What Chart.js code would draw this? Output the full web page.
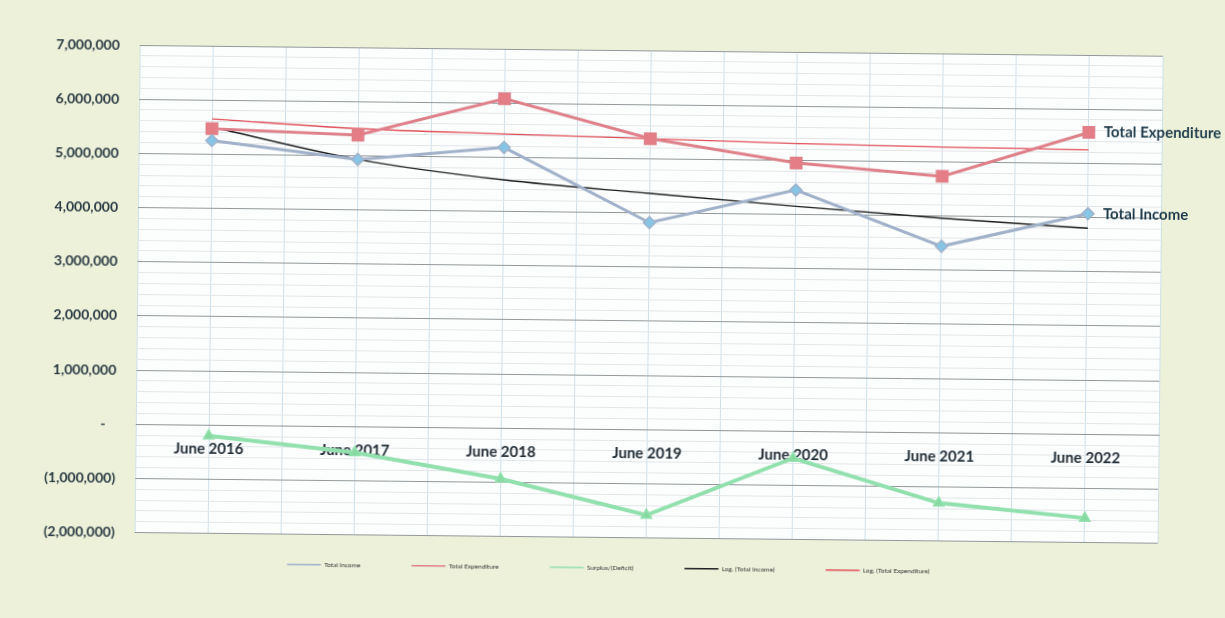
<!DOCTYPE html>
<html>
<head>
<meta charset="utf-8">
<script src="https://cdn.jsdelivr.net/npm/chart.js@4.4.0/dist/chart.umd.min.js"></script>
<style>
  html, body { margin: 0; padding: 0; background: #edf1da; overflow: hidden; }
  #wrap { width: 1225px; height: 618px; transform: rotate(0.6deg); }
</style>
</head>
<body>
<div id="wrap"><canvas id="finChart" width="1225" height="618"></canvas></div>
<script>
const categories = ['June 2016', 'June 2017', 'June 2018', 'June 2019', 'June 2020', 'June 2021', 'June 2022'];
const totalIncome = [5250000, 4930000, 5180000, 3820000, 4450000, 3440000, 4070000];
const totalExpenditure = [5470000, 5380000, 6080000, 5370000, 4950000, 4730000, 5570000];
const surplusDeficit = [-200000, -480000, -940000, -1580000, -500000, -1300000, -1550000];
const logIncomeTrend = [5500000, 4930000, 4580000, 4360000, 4150000, 3960000, 3800000];
const logExpenditureTrend = [5650000, 5500000, 5430000, 5370000, 5310000, 5270000, 5250000];

const fmtMoney = v => {
  if (v === 0) return '-   ';
  const s = Math.abs(v).toLocaleString('en-US');
  return v < 0 ? '(' + s + ')' : s;
};

// white plot area
const plotBg = {
  id: 'plotBg',
  beforeDraw(chart) {
    const a = chart.chartArea;
    const c = chart.ctx;
    c.save();
    c.fillStyle = '#fcfefe';
    c.fillRect(a.left, a.top, a.right - a.left, a.bottom - a.top);
    c.restore();
  }
};

// legend sits closer to the plot than its item spacing would allow,
// and is centred on the whole page rather than the padded box
const legendLift = {
  id: 'legendLift',
  afterLayout(chart) {
    const lg = chart.legend;
    if (!lg) return;
    lg.top -= 24;
    lg.bottom -= 24;
    lg.left += 26;
    lg.right += 26;
  }
};

// series name next to the last point
const endLabels = {
  id: 'endLabels',
  afterDatasetsDraw(chart, args, opts) {
    const c = chart.ctx;
    c.save();
    c.font = 'bold 15px Lato';
    c.fillStyle = '#1f3b4a';
    c.textBaseline = 'middle';
    opts.datasets.forEach(i => {
      const pts = chart.getDatasetMeta(i).data;
      const p = pts[pts.length - 1];
      c.fillText(chart.data.datasets[i].label, p.x + 15, p.y);
    });
    c.restore();
  }
};

new Chart(document.getElementById('finChart'), {
  type: 'line',
  data: {
    labels: categories,
    datasets: [
      {
        label: 'Total Income',
        data: totalIncome,
        borderColor: '#a0b1c9',
        backgroundColor: '#86c5e6',
        borderWidth: 3,
        pointStyle: 'rectRot',
        pointRadius: 6,
        pointBorderWidth: 1.5,
        pointBorderColor: '#a0b1c9',
        pointBackgroundColor: '#86c5e6'
      },
      {
        label: 'Total Expenditure',
        data: totalExpenditure,
        borderColor: '#de8089',
        backgroundColor: '#e57d86',
        borderWidth: 3,
        pointStyle: 'rect',
        pointRadius: 8,
        pointBorderWidth: 1.5,
        pointBorderColor: '#de8089',
        pointBackgroundColor: '#e57d86'
      },
      {
        label: 'Surplus/(Deficit)',
        data: surplusDeficit,
        borderColor: '#92e0ad',
        backgroundColor: '#86d9a0',
        borderWidth: 4,
        pointStyle: 'triangle',
        pointRadius: 6,
        pointBorderWidth: 1.5,
        pointBorderColor: '#92e0ad',
        pointBackgroundColor: '#86d9a0'
      },
      {
        label: 'Log. (Total Income)',
        data: logIncomeTrend,
        borderColor: '#1e1e1e',
        borderWidth: 1.5,
        pointRadius: 0,
        cubicInterpolationMode: 'monotone'
      },
      {
        label: 'Log. (Total Expenditure)',
        data: logExpenditureTrend,
        borderColor: '#e0505a',
        borderWidth: 1.3,
        pointRadius: 0,
        cubicInterpolationMode: 'monotone'
      }
    ]
  },
  options: {
    responsive: false,
    animation: false,
    layout: { padding: { left: 10, right: 65, top: 50, bottom: 13 } },
    scales: {
      x: {
        type: 'category',
        position: { y: 0 },
        offset: true,
        grid: { display: false },
        border: { display: true, color: '#8e9393' },
        ticks: {
          color: '#1f2b33',
          font: { family: 'Lato', weight: 'bold', size: 15 },
          padding: 7,
          maxRotation: 0,
          autoSkip: false
        }
      },
      xGrid: {
        type: 'linear',
        position: 'top',
        min: -0.5,
        max: 6.5,
        ticks: { display: false, stepSize: 0.5 },
        grid: { color: '#cfe0ea', drawTicks: false },
        border: { display: false }
      },
      yMinor: {
        type: 'linear',
        position: 'left',
        min: -2000000,
        max: 7000000,
        ticks: { display: false, stepSize: 200000 },
        grid: {
          color: ctx => ctx.tick.value % 1000000 === 0 ? 'rgba(0,0,0,0)' : '#e3e6e8',
          drawTicks: false
        },
        border: { display: false },
        afterFit: s => { s.width = 0; }
      },
      y: {
        min: -2000000,
        max: 7000000,
        ticks: {
          stepSize: 1000000,
          callback: fmtMoney,
          color: '#2b3a42',
          font: { family: 'Lato', weight: 'bold', size: 14 },
          padding: 20
        },
        grid: { color: '#92989a', drawTicks: false },
        border: { display: false },
        afterFit: s => { s.width = 127; }
      }
    },
    plugins: {
      legend: {
        position: 'bottom',
        labels: {
          usePointStyle: true,
          pointStyle: 'line',
          pointStyleWidth: 34,
          font: { family: 'Lato', size: 6.5 },
          color: '#333333',
          padding: 51
        }
      },
      tooltip: { enabled: false },
      endLabels: { datasets: [0, 1] }
    }
  },
  plugins: [plotBg, legendLift, endLabels]
});
</script>
</body>
</html>
